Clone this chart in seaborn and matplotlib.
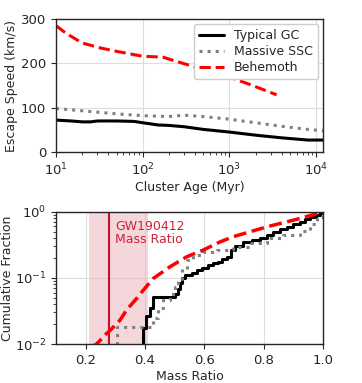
import matplotlib
matplotlib.use("Agg")
import matplotlib.pyplot as plt
import seaborn as sns
import numpy as np

# ---- top panel data: escape speed vs cluster age ----
gc_age = [10, 15, 20, 25, 30, 50, 80, 100, 150, 200, 300, 500, 1000, 2000, 4000, 8000, 12000]
gc_vesc = [72, 70, 68, 68, 70, 70, 69, 66, 61, 60, 57, 51, 45, 38, 32, 27, 27]

ssc_age = [10, 20, 50, 100, 200, 300, 500, 1000, 2000, 4000, 8000, 12000]
ssc_vesc = [98, 93, 86, 82, 80, 83, 80, 74, 66, 58, 51, 48]

beh_age = [10, 13, 20, 32, 50, 100, 170, 290, 450, 1000, 1740, 3500]
beh_vesc = [285, 268, 246, 235, 227, 216, 214, 200, 189, 169, 152, 129]

# ---- bottom panel data: cumulative mass ratio distributions ----
gc_q = [0.394, 0.394, 0.405, 0.417, 0.428, 0.501, 0.512, 0.518, 0.524, 0.535, 0.557,
        0.574, 0.591, 0.613, 0.630, 0.645, 0.660, 0.675, 0.690, 0.705, 0.731, 0.760,
        0.787, 0.810, 0.832, 0.855, 0.877, 0.900, 0.922, 0.940, 0.956, 0.975, 0.990, 1.0]
gc_cdf = [0.005, 0.0173, 0.0265, 0.0346, 0.0518, 0.058, 0.069, 0.083, 0.099, 0.11, 0.117,
          0.131, 0.139, 0.156, 0.165, 0.175, 0.19, 0.21, 0.26, 0.30, 0.35, 0.37,
          0.40, 0.44, 0.50, 0.55, 0.59, 0.65, 0.705, 0.77, 0.84, 0.90, 0.96, 1.0]

ssc_q = [0.288, 0.305, 0.411, 0.428, 0.445, 0.462, 0.484, 0.501, 0.512, 0.524, 0.540,
         0.563, 0.596, 0.641, 0.698, 0.754, 0.810, 0.866, 0.922, 0.956, 0.980, 1.0]
ssc_cdf = [0.005, 0.0183, 0.0183, 0.0245, 0.0346, 0.0465, 0.058, 0.074, 0.096, 0.136, 0.186,
           0.22, 0.245, 0.26, 0.29, 0.34, 0.40, 0.45, 0.52, 0.66, 0.84, 1.0]

beh_q = [0.220, 0.237, 0.271, 0.282, 0.316, 0.338, 0.372, 0.394, 0.428, 0.484, 0.540,
         0.596, 0.653, 0.698, 0.810, 0.922, 0.990, 1.0]
beh_cdf = [0.009, 0.010, 0.0145, 0.016, 0.023, 0.0327, 0.049, 0.065, 0.098, 0.147, 0.208,
           0.263, 0.35, 0.42, 0.59, 0.79, 0.97, 1.0]

gw_q = 0.28
gw_lo, gw_hi = 0.21, 0.41

sns.set_style("ticks")
plt.rcParams["font.family"] = ["DejaVu Sans"]
plt.rcParams["font.size"] = 9
plt.rcParams["xtick.labelsize"] = 9.5
plt.rcParams["ytick.labelsize"] = 9.5

fig = plt.figure(figsize=(3.62, 3.83), dpi=100)
ax1 = fig.add_axes([0.1547, 0.6031, 0.7376, 0.3473])
ax2 = fig.add_axes([0.1547, 0.1018, 0.7376, 0.3454])

grid_kw = dict(color="#dddddd", linewidth=0.8)

# top
sns.lineplot(x=gc_age, y=gc_vesc, ax=ax1, color="black", lw=2.2, label="Typical GC")
sns.lineplot(x=ssc_age, y=ssc_vesc, ax=ax1, color="gray", lw=2.2, linestyle=":", label="Massive SSC")
sns.lineplot(x=beh_age, y=beh_vesc, ax=ax1, color="red", lw=2.2, linestyle="--", label="Behemoth")
ax1.set_xscale("log")
ax1.set_xlim(10, 1.2e4)
ax1.set_ylim(0, 300)
ax1.set_yticks([0, 100, 200, 300])
ax1.grid(True, which="major", **grid_kw)
ax1.set_axisbelow(True)
ax1.set_xlabel("Cluster Age (Myr)", fontsize=9, labelpad=2)
ax1.set_ylabel("Escape Speed (km/s)", fontsize=9)
ax1.yaxis.set_label_coords(-0.142, 0.5)
ax1.legend(loc="upper right", fontsize=9, frameon=True, fancybox=True,
           edgecolor="#cccccc", framealpha=1, borderpad=0.4, labelspacing=0.25,
           handlelength=2.0, borderaxespad=0.4)
for s in ax1.spines.values():
    s.set_linewidth(1.0)

# bottom
ax2.axvspan(gw_lo, gw_hi, color="#e8a8b0", alpha=0.45, lw=0)
ax2.axvline(gw_q, color="#c8102e", lw=1.5)
sns.lineplot(x=gc_q, y=gc_cdf, ax=ax2, color="black", lw=2.2, drawstyle="steps-post",
             estimator=None, sort=False)
sns.lineplot(x=ssc_q, y=ssc_cdf, ax=ax2, color="gray", lw=2.2, linestyle=":",
             drawstyle="steps-post", estimator=None, sort=False)
sns.lineplot(x=beh_q, y=beh_cdf, ax=ax2, color="red", lw=2.5, linestyle="--",
             estimator=None, sort=False)
ax2.set_yscale("log")
ax2.set_xlim(0.1, 1.0)
ax2.set_ylim(0.01, 1.0)
ax2.set_xticks([0.2, 0.4, 0.6, 0.8, 1.0])
ax2.grid(True, which="major", **grid_kw)
ax2.set_axisbelow(True)
ax2.set_xlabel("Mass Ratio", fontsize=9, labelpad=2)
ax2.set_ylabel("Cumulative Fraction", fontsize=9)
ax2.yaxis.set_label_coords(-0.158, 0.5)
ax2.text(0.30, 0.76, "GW190412\nMass Ratio", color="#d0203a", fontsize=9,
         va="top", ha="left", linespacing=1.0)
for s in ax2.spines.values():
    s.set_linewidth(1.0)

fig.savefig("out.png", dpi=100)
